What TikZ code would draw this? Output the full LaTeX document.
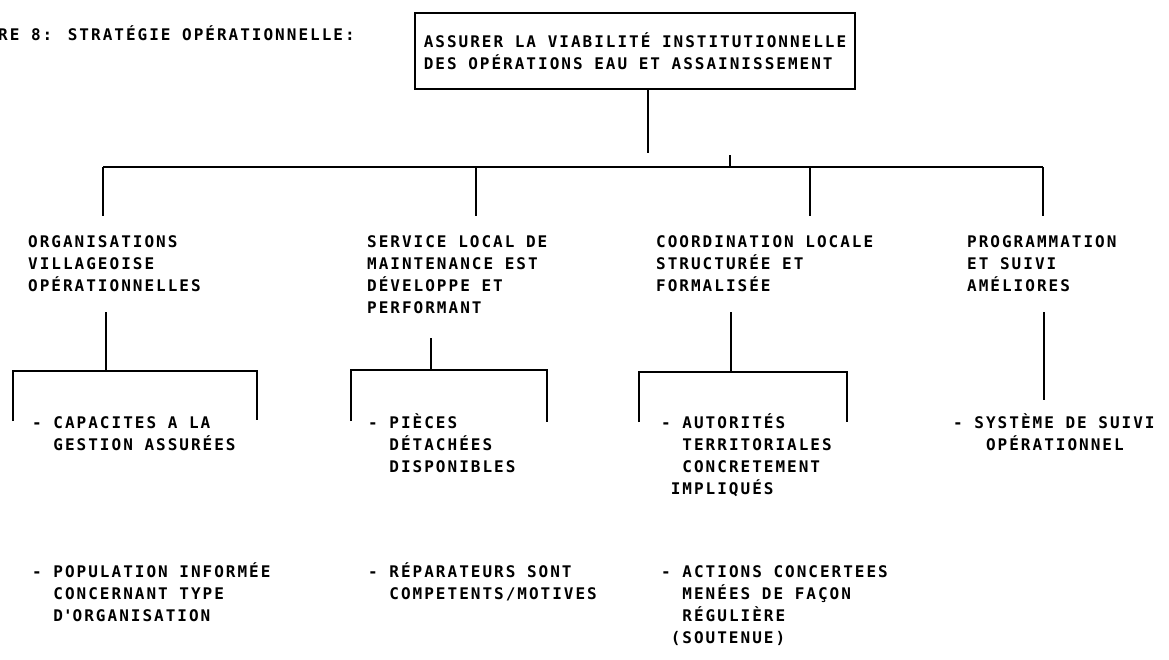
\documentclass[tikz,border=0pt]{standalone}
\usepackage{fontspec}
% Bold typewriter-like lettering with wide character pitch
\newfontfamily\typefont{DejaVu Sans Mono Bold}[LetterSpace=12.5]
\newcommand\ind[1]{\hphantom{#1}}
\begin{document}
\begin{tikzpicture}[x=1pt,y=-1pt,
  ln/.style={line width=1.8pt},
  lettering/.style={font=\typefont\fontsize{16}{22}\selectfont},
  % multi-line blocks are placed by the baseline of their last line
  txt/.style={lettering, anchor=base west, inner sep=0pt, align=left},
  goalbox/.style={lettering, draw, ln, inner sep=0pt, align=left,
                  minimum width=440pt, minimum height=76pt}]
\useasboundingbox (0,0) rectangle (1169,659);

% heading and overall goal
\node[txt] (title) at (-2,40) {RE 8: STRATÉGIE OPÉRATIONNELLE:};
\node[goalbox] (goal) at (635,51)
  {ASSURER LA VIABILITÉ INSTITUTIONNELLE\\DES OPÉRATIONS EAU ET ASSAINISSEMENT};

% second level: the four outcomes
\node[txt] (o1) at (28,291) {ORGANISATIONS\\VILLAGEOISE\\OPÉRATIONNELLES};
\node[txt] (o2) at (367,313) {SERVICE LOCAL DE\\MAINTENANCE EST\\DÉVELOPPE ET\\PERFORMANT};
\node[txt] (o3) at (656,291) {COORDINATION LOCALE\\STRUCTURÉE ET\\FORMALISÉE};
\node[txt] (o4) at (967,291) {PROGRAMMATION\\ET SUIVI\\AMÉLIORES};

% third level: first results
\node[txt] (a1) at (32,450) {- CAPACITES A LA\\\ind{xx}GESTION ASSURÉES};
\node[txt] (a2) at (368,472) {- PIÈCES\\\ind{xx}DÉTACHÉES\\\ind{xx}DISPONIBLES};
\node[txt] (a3) at (661,494) {- AUTORITÉS\\\ind{xx}TERRITORIALES\\\ind{xx}CONCRETEMENT\\\ind{x}IMPLIQUÉS};
\node[txt] (a4) at (953,450) {- SYSTÈME DE SUIVI\\\ind{xxx}OPÉRATIONNEL};

% fourth level: second results
\node[txt] (b1) at (32,621) {- POPULATION INFORMÉE\\\ind{xx}CONCERNANT TYPE\\\ind{xx}D\textquotesingle ORGANISATION};
\node[txt] (b2) at (368,599) {- RÉPARATEURS SONT\\\ind{xx}COMPETENTS/MOTIVES};
\node[txt] (b3) at (661,643) {- ACTIONS CONCERTEES\\\ind{xx}MENÉES DE FAÇON\\\ind{xx}RÉGULIÈRE\\\ind{x}(SOUTENUE)};

% connector points
\coordinate (j)  at (648,153);
\coordinate (tk) at (730,155);
\coordinate (bl) at (103,167);
\coordinate (br) at (1043,167);
\coordinate (d1) at (103,216);
\coordinate (d2) at (476,216);
\coordinate (d3) at (810,216);
\coordinate (d4) at (1043,216);

\coordinate (s1) at (106,312);
\coordinate (c1l) at (13,371);  \coordinate (c1r) at (257,371);
\coordinate (e1l) at (13,421);  \coordinate (e1r) at (257,420);
\coordinate (s2) at (431,338);
\coordinate (c2l) at (351,370); \coordinate (c2r) at (547,370);
\coordinate (e2l) at (351,421); \coordinate (e2r) at (547,422);
\coordinate (s3) at (731,312);
\coordinate (c3l) at (639,372); \coordinate (c3r) at (847,372);
\coordinate (e3l) at (639,422); \coordinate (e3r) at (847,422);
\coordinate (s4) at (1044,312);
\coordinate (e4) at (1044,400);

% top of the tree
\draw[ln] (goal.south -| j) -- (j);
\draw[ln] (bl) -- (br);
\draw[ln] (tk) -- (tk |- bl);
\foreach \d in {d1,d2,d3,d4} \draw[ln] (\d |- bl) -- (\d);

% brackets under each outcome
\draw[ln] (s1) -- (s1 |- c1l);
\draw[ln] (e1l) -- (c1l) -- (c1r) -- (e1r);
\draw[ln] (s2) -- (s2 |- c2l);
\draw[ln] (e2l) -- (c2l) -- (c2r) -- (e2r);
\draw[ln] (s3) -- (s3 |- c3l);
\draw[ln] (e3l) -- (c3l) -- (c3r) -- (e3r);
\draw[ln] (s4) -- (e4);
\end{tikzpicture}
\end{document}
